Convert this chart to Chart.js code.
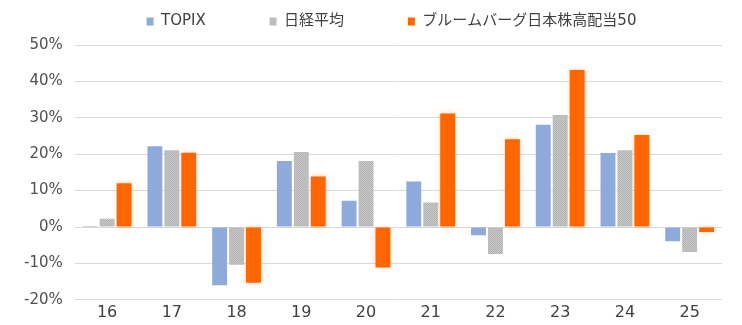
<!DOCTYPE html>
<html>
<head>
<meta charset="utf-8">
<script src="https://cdn.jsdelivr.net/npm/chart.js@4"></script>
<style>
  body { margin: 0; background: #fff; }
  #wrap { width: 742px; height: 325px; }
</style>
</head>
<body>
<div id="wrap"><canvas id="myChart"></canvas></div>
<script>
const years = ['16', '17', '18', '19', '20', '21', '22', '23', '24', '25']
const topix = [0.3, 22.2, -16.0, 18.1, 7.2, 12.5, -2.3, 28.1, 20.3, -3.9]
const nikkei = [2.3, 21.1, -10.4, 20.6, 18.1, 6.7, -7.4, 30.8, 21.1, -6.9]
const bloomberg = [12.0, 20.4, -15.3, 13.9, -11.1, 31.2, 24.1, 43.1, 25.3, -1.4]

const FONT = "'DejaVu Sans', 'Noto Sans CJK JP', sans-serif"

// gray dotted fill like the excel pattern
function grayPattern() {
  const c = document.createElement('canvas')
  c.width = 2; c.height = 2
  const g = c.getContext('2d')
  g.fillStyle = '#c6c6c6'
  g.fillRect(0, 0, 2, 2)
  g.fillStyle = '#b4b4b4'
  g.fillRect(0, 0, 1, 1)
  g.fillRect(1, 1, 1, 1)
  return g.createPattern(c, 'repeat')
}

// soft glow behind the orange bars
const glowPlugin = {
  id: 'glow',
  beforeDatasetDraw(chart, args) {
    if (args.index === 2) {
      chart.ctx.save()
      chart.ctx.shadowColor = 'rgba(255, 140, 60, 0.45)'
      chart.ctx.shadowBlur = 5
    }
  },
  afterDatasetDraw(chart, args) {
    if (args.index === 2) chart.ctx.restore()
  }
}

// legend: fixed height, nudged right like the original
const legendFit = {
  id: 'legendFit',
  beforeInit(chart) {
    const fit = chart.legend.fit
    chart.legend.fit = function () {
      fit.bind(chart.legend)()
      this.height = 45
    }
  },
  afterLayout(chart) {
    chart.legend.left += 24.5
    chart.legend.right += 24.5
  }
}

const ctx = document.getElementById('myChart').getContext('2d')

new Chart(ctx, {
  type: 'bar',
  data: {
    labels: years,
    datasets: [
      { label: 'TOPIX', data: topix, backgroundColor: '#8eaadb' },
      { label: '日経平均', data: nikkei, backgroundColor: grayPattern() },
      { label: 'ブルームバーグ日本株高配当50', data: bloomberg, backgroundColor: '#ff6600' }
    ]
  },
  options: {
    responsive: true,
    maintainAspectRatio: false,
    animation: false,
    categoryPercentage: 0.785,
    barPercentage: 0.88,
    layout: { padding: { left: 12, right: 20, top: 0, bottom: 0 } },
    plugins: {
      legend: {
        position: 'top',
        labels: {
          boxWidth: 7,
          boxHeight: 8,
          padding: 14,
          color: '#404040',
          font: { family: FONT, size: 15 },
          generateLabels: chart => {
            const items = Chart.defaults.plugins.legend.labels.generateLabels(chart)
            items.forEach((it, i) => {
              if (i < items.length - 1) it.text = it.text + '\u3000\u3000\u3000 '
            })
            return items
          }
        }
      },
      tooltip: { enabled: false }
    },
    scales: {
      x: {
        grid: { display: false, drawTicks: false },
        border: { display: false },
        ticks: {
          color: '#404040',
          padding: 3,
          font: { family: FONT, size: 16 }
        }
      },
      y: {
        min: -20,
        max: 50,
        grid: { color: '#d9d9d9', drawTicks: false },
        border: { display: false },
        ticks: {
          stepSize: 10,
          padding: 12,
          color: '#505050',
          font: { family: FONT, size: 15 },
          callback: v => `${v}%`
        }
      }
    }
  },
  plugins: [glowPlugin, legendFit]
})
</script>
</body>
</html>
